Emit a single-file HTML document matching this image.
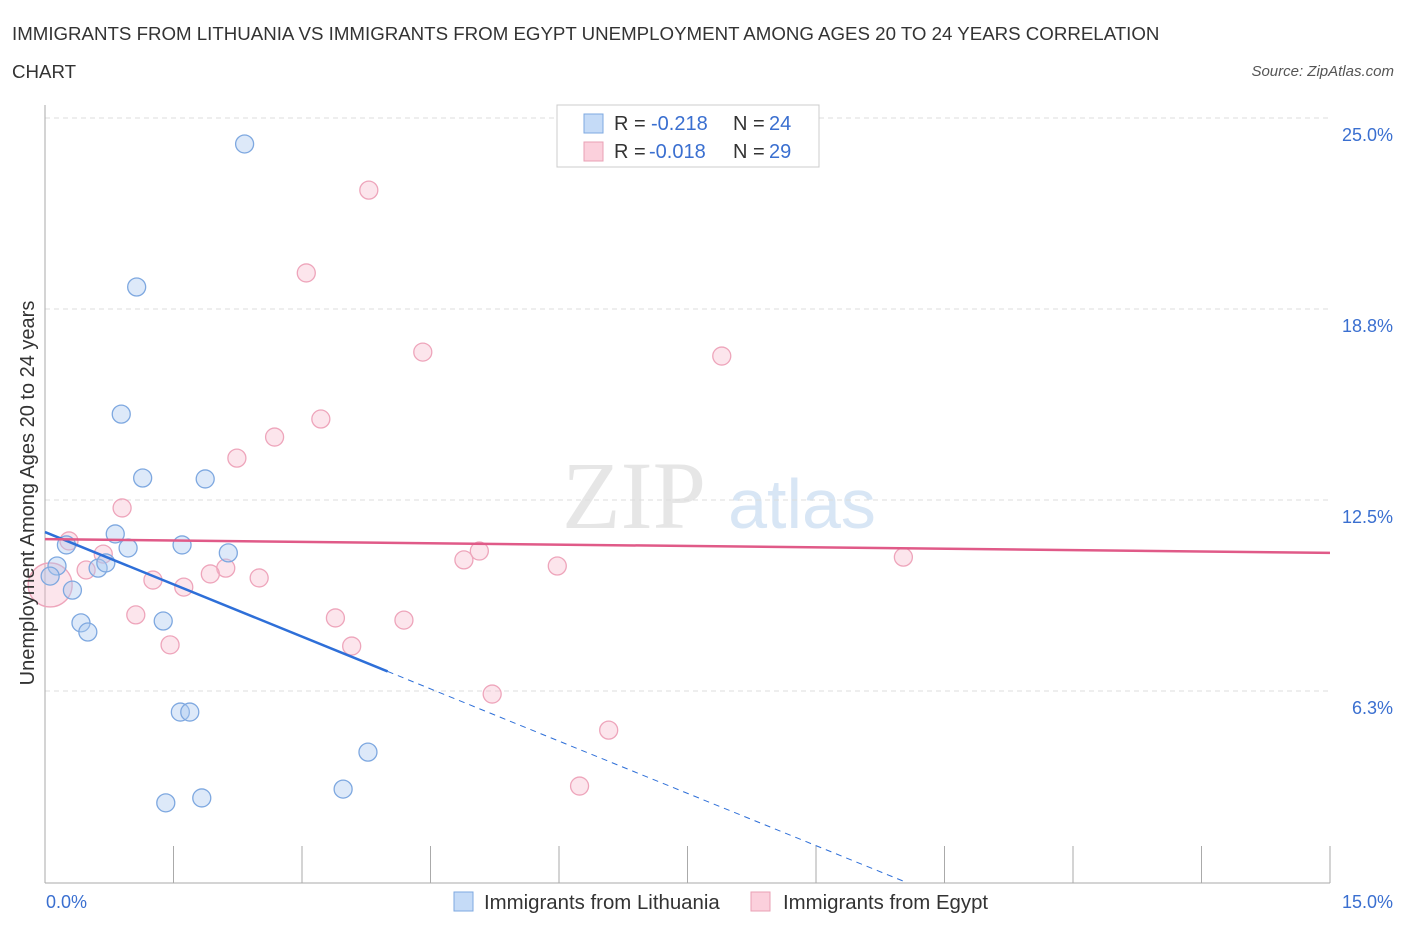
<!DOCTYPE html>
<html><head><meta charset="utf-8"><style>
body{margin:0;background:#fff;font-family:"Liberation Sans",sans-serif;}
</style></head><body>
<svg width="1406" height="930" xmlns="http://www.w3.org/2000/svg" id="chart">
<text x="12" y="40" font-size="18.7" fill="#333">IMMIGRANTS FROM LITHUANIA VS IMMIGRANTS FROM EGYPT UNEMPLOYMENT AMONG AGES 20 TO 24 YEARS CORRELATION</text>
<text x="12" y="78" font-size="18.7" fill="#333">CHART</text>
<text x="1394" y="76" font-size="15" fill="#555" font-style="italic" text-anchor="end">Source: ZipAtlas.com</text>
<text x="634" y="528" font-size="96" fill="#e6e6e6" font-family="Liberation Serif,serif" text-anchor="middle">ZIP</text>
<text x="802" y="528" font-size="70" fill="#d8e6f5" text-anchor="middle">atlas</text>
<g id="grid"></g><g id="axes"></g><g id="pts"></g><g id="lines"></g>
<text transform="translate(34,493) rotate(-90)" font-size="20" fill="#333" text-anchor="middle">Unemployment Among Ages 20 to 24 years</text>
<text x="46" y="908" font-size="18" fill="#3a6fd0">0.0%</text>
<text x="1393" y="908" font-size="18" fill="#3a6fd0" text-anchor="end">15.0%</text>
<g>
<rect x="557" y="105" width="262" height="62" fill="#fff" stroke="#ccc"/>
<rect x="584" y="114" width="19" height="19" fill="#c5dbf7" stroke="#7ea8e0"/>
<rect x="584" y="142" width="19" height="19" fill="#fbd0dc" stroke="#eaa0b5"/>
<text x="614" y="130" font-size="20" fill="#333">R =</text>
<text x="651" y="130" font-size="20" fill="#3a6fd0">-0.218</text>
<text x="733" y="130" font-size="20" fill="#333">N =</text>
<text x="769" y="130" font-size="20" fill="#3a6fd0">24</text>
<text x="614" y="158" font-size="20" fill="#333">R =</text>
<text x="649" y="158" font-size="20" fill="#3a6fd0">-0.018</text>
<text x="733" y="158" font-size="20" fill="#333">N =</text>
<text x="769" y="158" font-size="20" fill="#3a6fd0">29</text>
</g>
<g>
<rect x="454" y="892" width="19" height="19" fill="#c5dbf7" stroke="#7ea8e0"/>
<text x="484" y="909" font-size="20.4" fill="#333">Immigrants from Lithuania</text>
<rect x="751" y="892" width="19" height="19" fill="#fbd0dc" stroke="#eaa0b5"/>
<text x="783" y="909" font-size="20.4" fill="#333">Immigrants from Egypt</text>
</g>
</svg>
<script>
const yTicks=[25.0,18.75,12.5,6.25];
const yTickLabels=["25.0%","18.8%","12.5%","6.3%"];
const xTicks=[0,1.5,3,4.5,6,7.5,9,10.5,12,13.5,15];
const lithX=[2.33,1.07,0.89,1.14,1.87,0.82,0.25,0.97,1.60,2.14,0.14,0.62,0.71,0.06,0.32,0.42,0.50,1.38,1.58,1.69,1.41,1.83,3.48,3.77];
const lithY=[24.15,19.47,15.31,13.22,13.19,11.39,11.03,10.93,11.03,10.77,10.34,10.27,10.44,10.01,9.55,8.48,8.18,8.54,5.56,5.56,2.59,2.75,3.04,4.25];
const egX=[3.78,3.05,4.41,7.90,3.22,2.68,2.24,0.90,0.28,0.68,0.48,2.11,1.93,1.26,1.62,2.50,1.06,1.46,3.39,3.58,4.19,4.89,5.07,5.98,10.02,5.22,6.58,6.24,0.06];
const egY=[22.64,19.93,17.34,17.21,15.15,14.56,13.87,12.24,11.16,10.73,10.21,10.27,10.08,9.88,9.65,9.95,8.74,7.76,8.64,7.72,8.57,10.54,10.83,10.34,10.63,6.15,4.97,3.14,9.72];
const egR=[9,9,9,9,9,9,9,9,9,9,9,9,9,9,9,9,9,9,9,9,9,9,9,9,9,9,9,9,22];
const lithTrend=[11.45,-1.14,4.0,10.04];
const egTrend=[11.22,10.77];
const X=v=>45+v*(1285/15), Y=v=>882-v*(191/6.25);
const NS="http://www.w3.org/2000/svg";
function mk(p,t,a){const e=document.createElementNS(NS,t);for(const k in a)e.setAttribute(k,a[k]);document.getElementById(p).appendChild(e);return e;}
yTicks.forEach((t,i)=>{
 const l=mk('grid','line',{x1:45,x2:1330,y1:Y(t),y2:Y(t),stroke:'#ddd','stroke-dasharray':'5,4'});
 
 
 const tx=mk('grid','text',{x:1393,y:Y(t)+23,'font-size':18,fill:'#3a6fd0','text-anchor':'end'});
 tx.textContent=yTickLabels[i];
 
 
});
let a=mk('axes','line',{x1:45,x2:45,y1:105,y2:883,stroke:'#aaa'});


a=mk('axes','line',{x1:45,x2:1330,y1:883,y2:883,stroke:'#aaa'});


xTicks.forEach(t=>{const l=mk('axes','line',{x1:X(t),x2:X(t),y1:846,y2:883,stroke:'#aaa'});
 
 });
egX.forEach((v,i)=>{const c=mk('pts','circle',{cx:X(v),cy:Y(egY[i]),r:egR[i],fill:'rgba(246,180,200,0.35)',stroke:'#eea5bb','stroke-width':1.3});
 
 });
lithX.forEach((v,i)=>{const c=mk('pts','circle',{cx:X(v),cy:Y(lithY[i]),r:9,fill:'rgba(170,200,240,0.4)',stroke:'#7ea8e0','stroke-width':1.3});
 
 });
let l=mk('lines','line',{x1:X(0),y1:Y(lithTrend[0]),x2:X(lithTrend[2]),y2:Y(lithTrend[0]+lithTrend[1]*lithTrend[2]),stroke:'#2e6fd8','stroke-width':2.5});


l=mk('lines','line',{x1:X(lithTrend[2]),y1:Y(lithTrend[0]+lithTrend[1]*lithTrend[2]),x2:X(lithTrend[3]),y2:Y(lithTrend[0]+lithTrend[1]*lithTrend[3]),stroke:'#2e6fd8','stroke-width':1,'stroke-dasharray':'6,5'});


l=mk('lines','line',{x1:X(0),y1:Y(egTrend[0]),x2:X(15),y2:Y(egTrend[1]),stroke:'#e05a88','stroke-width':2.5});


</script>
</body></html>
